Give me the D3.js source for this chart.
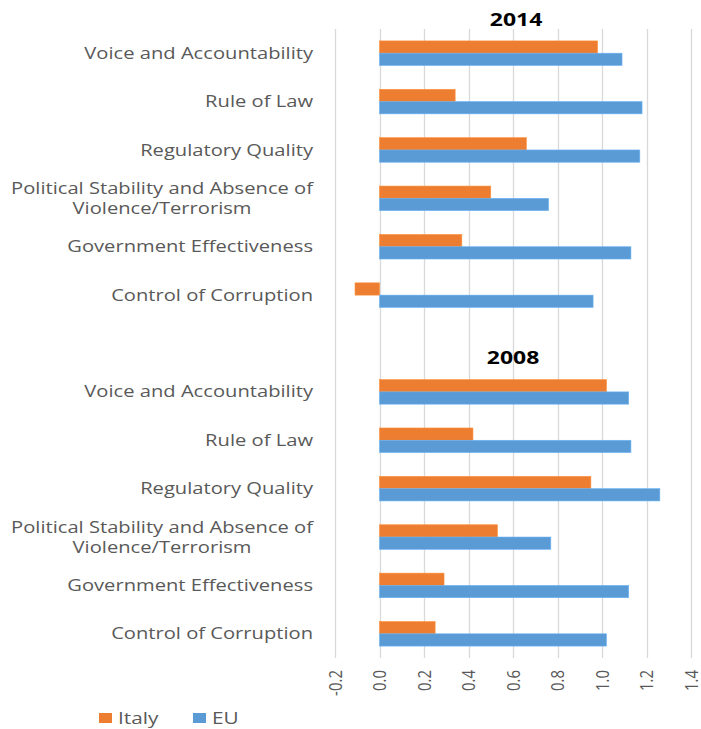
<!DOCTYPE html>
<html>
<head>
<meta charset="utf-8">
<script src="https://cdn.jsdelivr.net/npm/d3@7"></script>
<style>
  body { margin: 0; background: #fff; }
  svg { display: block; font-family: "Open Sans", sans-serif; }
</style>
</head>
<body>
<svg width="701" height="729"></svg>
<script>
const categories = [
  ["Voice and Accountability"],
  ["Rule of Law"],
  ["Regulatory Quality"],
  ["Political Stability and Absence of", "Violence/Terrorism"],
  ["Government Effectiveness"],
  ["Control of Corruption"]
];
const series = ["Italy", "EU"];
const italy2014 = [0.98, 0.34, 0.66, 0.50, 0.37, -0.11];
const eu2014 = [1.09, 1.18, 1.17, 0.76, 1.13, 0.96];
const italy2008 = [1.02, 0.42, 0.95, 0.53, 0.29, 0.25];
const eu2008 = [1.12, 1.13, 1.26, 0.77, 1.12, 1.02];
const ticks = [-0.2, 0, 0.2, 0.4, 0.6, 0.8, 1.0, 1.2, 1.4];
const colors = { Italy: '#ED7D31', EU: '#5B9BD5' };

const svg = d3.select('svg');
const plotTop = 29, plotBottom = 658, plotLeft = 335, plotRight = 691;
const labelRight = 313;
// the original picture is stretched sideways, so the text is too
const stretch = 1.26;

// 13 slots: 6 for 2014, one blank, 6 for 2008
const rows = [];
categories.forEach((c, i) => rows.push({ key: '2014-' + i, lines: c, Italy: italy2014[i], EU: eu2014[i] }));
rows.push({ key: 'gap', lines: [] });
categories.forEach((c, i) => rows.push({ key: '2008-' + i, lines: c, Italy: italy2008[i], EU: eu2008[i] }));

const x = d3.scaleLinear().domain([-0.2, 1.4]).range([plotLeft, plotRight]);
const y = d3.scaleBand().domain(rows.map(d => d.key)).range([plotTop, plotBottom]);
const ySeries = d3.scaleBand().domain(series).range([0, y.bandwidth()]).paddingOuter(0.97);

// gridlines
svg.append('g')
  .selectAll('line')
  .data(ticks)
  .enter()
  .append('line')
    .attr('x1', d => Math.round(x(d)) + 0.5)
    .attr('x2', d => Math.round(x(d)) + 0.5)
    .attr('y1', plotTop)
    .attr('y2', plotBottom)
    .attr('stroke', '#d9d9d9')
    .attr('stroke-width', 1.3)

// bars
const groups = svg.append('g')
  .selectAll('.row')
  .data(rows.filter(d => d.key !== 'gap'))
  .enter()
  .append('g')
    .classed('row', true)
    .attr('transform', d => 'translate(0,' + y(d.key) + ')')

groups.selectAll('rect')
  .data(d => series.map(s => ({ s: s, v: d[s] })))
  .enter()
  .append('rect')
    .attr('x', d => x(Math.min(0, d.v)))
    .attr('y', d => ySeries(d.s))
    .attr('width', d => Math.abs(x(d.v) - x(0)))
    .attr('height', ySeries.bandwidth())
    .attr('fill', d => colors[d.s])
    .attr('stroke', d => d3.color(colors[d.s]).brighter(0.4))
    .attr('stroke-width', 0.6)

// category labels
const labels = groups.append('text')
    .attr('fill', '#595959')
    .attr('font-size', '16px')
    .attr('transform', 'translate(' + labelRight + ',' + (y.bandwidth() / 2) + ') scale(' + stretch + ',1)')

labels.each(function (d) {
  const t = d3.select(this);
  const n = d.lines.length;
  d.lines.forEach((line, i) => {
    t.append('tspan')
      .text(line)
      .attr('dy', i === 0 ? (0.35 - (n - 1) * 0.62) + 'em' : '1.24em')
  });
  if (n === 1) {
    t.attr('text-anchor', 'end').selectAll('tspan').attr('x', 0);
  } else {
    const w = t.select('tspan').node().getComputedTextLength();
    t.attr('text-anchor', 'middle').selectAll('tspan').attr('x', -w / 2);
  }
});

// x axis tick labels, rotated
svg.append('g')
  .selectAll('text')
  .data(ticks)
  .enter()
  .append('text')
    .text(d => d3.format('.1f')(d).replace('−', '-'))
    .attr('transform', d => 'translate(' + (x(d) + 6.5) + ',670) scale(1.25,1) rotate(-90)')
    .attr('text-anchor', 'end')
    .attr('fill', '#595959')
    .attr('font-size', '15px')

// panel titles
svg.append('text')
    .text('2014')
    .attr('transform', 'translate(516,25.5) scale(1.35,1)')
    .attr('text-anchor', 'middle')
    .attr('font-weight', 'bold')
    .attr('font-size', '17px')
    .attr('fill', '#000')

svg.append('text')
    .text('2008')
    .attr('transform', 'translate(513,364) scale(1.35,1)')
    .attr('text-anchor', 'middle')
    .attr('font-weight', 'bold')
    .attr('font-size', '17px')
    .attr('fill', '#000')

// legend
const legendX = [99, 193];
const legend = svg.append('g')
  .selectAll('g')
  .data(series)
  .enter()
  .append('g')
    .attr('transform', (d, i) => 'translate(' + legendX[i] + ',713)')

legend.append('rect')
    .attr('width', 13)
    .attr('height', 10)
    .attr('fill', d => colors[d])

legend.append('text')
    .text(d => d)
    .attr('transform', 'translate(19,11) scale(1.3,1)')
    .attr('fill', '#595959')
    .attr('font-size', '16px')
</script>
</body>
</html>
